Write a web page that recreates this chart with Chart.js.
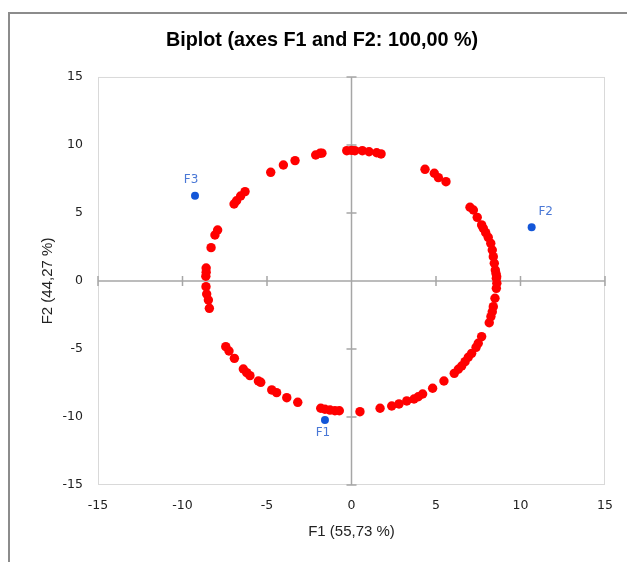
<!DOCTYPE html>
<html lang="en">
<head>
<meta charset="UTF-8">
<title>Biplot (axes F1 and F2: 100,00 %)</title>
<script src="https://cdn.jsdelivr.net/npm/chart.js"></script>
<style>
    body { margin: 0; background: #fff; width: 627px; height: 562px; overflow: hidden; position: relative; }
    .frame { position: absolute; left: 8px; top: 12px; width: 700px; height: 600px; border-left: 2px solid #8c8c8c; border-top: 2px solid #8c8c8c; }
    #chart { position: absolute; left: 0; top: 0; }
</style>
</head>
<body>
<div class="frame"></div>
<canvas id="chart" width="627" height="562"></canvas>
<script>
const obsX = [
    -8.60, -8.60, -8.62, -8.31, -8.08, -7.92, -6.95, -6.80, -6.56, -6.30,
    -4.78, -4.03, -3.34, -2.12, -1.86, -1.75, -0.28, 0.00, 0.20, 0.64,
    1.04, 1.49, 1.75, 4.35, 4.90, 5.14, 5.59, 7.01, 7.21, 7.44,
    7.70, 7.80, 7.94, 8.09, 8.24, 8.33, 8.39, 8.45, 8.51, 8.59,
    8.55, 8.57, 8.60, 8.57, 8.49, 8.39, 8.33, 8.25, 8.15, 7.70,
    7.50, 7.37, 7.11, 6.91, 6.72, 6.52, 6.32, 6.08, 5.47, 4.80,
    4.21, 3.95, 3.70, 3.27, 2.81, 2.38, 1.69, 0.50, -0.72, -0.98,
    -1.27, -1.57, -1.82, -3.18, -3.83, -4.43, -4.72, -5.37, -5.51, -6.01,
    -6.20, -6.40, -6.93, -7.25, -7.44, -8.41, -8.47, -8.57, -8.61
];
const obsY = [
    0.95, 0.65, 0.35, 2.45, 3.38, 3.75, 5.66, 5.90, 6.25, 6.57,
    7.99, 8.53, 8.85, 9.26, 9.39, 9.40, 9.58, 9.60, 9.58, 9.58,
    9.50, 9.43, 9.34, 8.21, 7.92, 7.60, 7.30, 5.42, 5.22, 4.68,
    4.12, 3.87, 3.55, 3.21, 2.77, 2.28, 1.79, 1.30, 0.81, 0.32,
    0.55, 0.20, -0.17, -0.54, -1.27, -1.89, -2.26, -2.62, -3.07, -4.09,
    -4.58, -4.88, -5.32, -5.61, -5.93, -6.25, -6.49, -6.79, -7.35, -7.89,
    -8.31, -8.51, -8.68, -8.82, -9.04, -9.19, -9.36, -9.61, -9.54, -9.54,
    -9.49, -9.43, -9.36, -8.92, -8.58, -8.21, -8.01, -7.45, -7.35, -6.96,
    -6.74, -6.47, -5.69, -5.15, -4.83, -2.01, -1.40, -0.96, -0.42
];

// variables (blue)
const varNames = ['F1', 'F2', 'F3'];
const varX = [-1.57, 10.66, -9.26];
const varY = [-10.22, 3.95, 6.27];

const axisTicks = [-15, -10, -5, 0, 5, 10, 15];

const redPoints = obsX.map((x, i) => ({ x: x, y: obsY[i] }));
const bluePoints = varX.map((x, i) => ({ x: x, y: varY[i] }));

// label offsets for the variable names (px from the point)
const labelOffsets = { F1: [-2, 13], F2: [14, -15], F3: [-4, -16] };

const crossPlugin = {
    id: 'cross',
    beforeDatasetsDraw(chart) {
        const { ctx, chartArea: a, scales: { x, y } } = chart;
        ctx.save();
        ctx.strokeStyle = '#d9d9d9';
        ctx.lineWidth = 1;
        ctx.strokeRect(a.left + 0.5, a.top + 0.5, a.width - 1, a.height - 1);

        const x0 = x.getPixelForValue(0);
        const y0 = y.getPixelForValue(0);
        ctx.strokeStyle = '#a6a6a6';
        ctx.lineWidth = 1.5;
        ctx.beginPath();
        ctx.moveTo(x0, a.top); ctx.lineTo(x0, a.bottom);
        ctx.moveTo(a.left, y0); ctx.lineTo(a.right, y0);
        axisTicks.forEach(v => {
            const py = y.getPixelForValue(v);
            ctx.moveTo(x0 - 5, py); ctx.lineTo(x0 + 5, py);
            const px = x.getPixelForValue(v);
            ctx.moveTo(px, y0 - 5); ctx.lineTo(px, y0 + 5);
        });
        ctx.stroke();
        ctx.restore();
    },
    afterDatasetsDraw(chart) {
        const { ctx } = chart;
        const meta = chart.getDatasetMeta(1);
        ctx.save();
        ctx.font = '12px "DejaVu Sans"';
        ctx.fillStyle = '#4a78d6';
        ctx.textAlign = 'center';
        ctx.textBaseline = 'middle';
        meta.data.forEach((pt, i) => {
            const off = labelOffsets[varNames[i]];
            ctx.fillText(varNames[i], pt.x + off[0], pt.y + off[1]);
        });
        ctx.restore();
    }
};

new Chart(document.getElementById('chart'), {
    type: 'scatter',
    data: {
        datasets: [
            {
                label: 'Observations',
                data: redPoints,
                backgroundColor: '#ff0000',
                borderColor: '#ff0000',
                borderWidth: 0,
                pointRadius: 4.7,
                pointHoverRadius: 4.7
            },
            {
                label: 'Variables',
                data: bluePoints,
                backgroundColor: '#1356d8',
                borderColor: '#1356d8',
                borderWidth: 0,
                pointRadius: 4,
                pointHoverRadius: 4
            }
        ]
    },
    options: {
        responsive: false,
        animation: false,
        layout: { padding: { left: 39, right: 22, top: 0, bottom: 0 } },
        plugins: {
            legend: { display: false },
            tooltip: { enabled: false },
            title: {
                display: true,
                text: 'Biplot (axes F1 and F2: 100,00 %)',
                color: '#000',
                font: { family: '"Liberation Sans", Arial, sans-serif', size: 19.8, weight: 'bold' },
                padding: { top: 28.5, bottom: 24.7 }
            }
        },
        scales: {
            x: {
                type: 'linear',
                min: -15, max: 15,
                afterBuildTicks: s => { s.ticks = axisTicks.map(v => ({ value: v })); },
                afterFit: s => { s.height = 77; },
                grid: { display: false, drawTicks: false },
                border: { display: false },
                ticks: {
                    padding: 13,
                    color: '#222',
                    font: { family: '"DejaVu Sans"', size: 12.5 }
                },
                title: {
                    display: true,
                    text: 'F1 (55,73 %)',
                    color: '#222',
                    font: { family: '"Liberation Sans", Arial, sans-serif', size: 15 },
                    padding: { top: 0, bottom: 21 }
                }
            },
            y: {
                type: 'linear',
                min: -15, max: 15,
                afterBuildTicks: s => { s.ticks = axisTicks.map(v => ({ value: v })); },
                afterFit: s => { s.width = 59; },
                grid: { display: false, drawTicks: false },
                border: { display: false },
                ticks: {
                    padding: 15,
                    color: '#222',
                    font: { family: '"DejaVu Sans"', size: 12.5 }
                },
                title: {
                    display: true,
                    text: 'F2 (44,27 %)',
                    color: '#222',
                    font: { family: '"Liberation Sans", Arial, sans-serif', size: 15 },
                    padding: { top: 0, bottom: 0 }
                }
            }
        }
    },
    plugins: [crossPlugin]
});
</script>
</body>
</html>
